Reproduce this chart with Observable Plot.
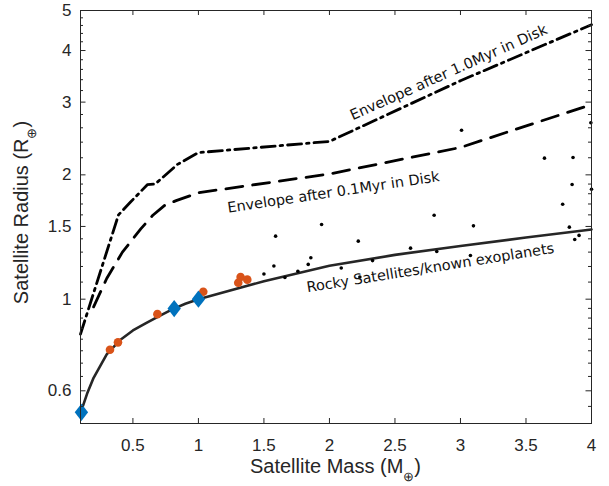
<!DOCTYPE html>
<html><head><meta charset="utf-8">
<script src="https://cdn.jsdelivr.net/npm/d3@7"></script>
<script src="https://cdn.jsdelivr.net/npm/@observablehq/plot@0.6"></script>
<style>body{margin:0;background:#fff;} svg{display:block}</style>
</head><body><div id="chart"></div>
<script>
// Rocky satellites / known exoplanets mass-radius curve
const rockyMass   = [0.1, 0.15, 0.2, 0.3, 0.4, 0.5, 0.6, 0.7, 0.8, 0.9, 1.0, 1.5, 2.0, 2.5, 3.0, 3.5, 4.0];
const rockyRadius = [0.53, 0.59, 0.645, 0.735, 0.795, 0.84, 0.875, 0.91, 0.945, 0.975, 1.0, 1.105, 1.205, 1.28, 1.345, 1.41, 1.475];
// Envelope after 0.1 Myr in disk (dashed)
const env01Mass   = [0.2, 0.3, 0.42, 0.56, 0.65, 0.74, 0.83, 1.0, 2.0, 3.0, 4.0];
const env01Radius = [0.958, 1.122, 1.30, 1.48, 1.594, 1.685, 1.732, 1.81, 2.01, 2.33, 2.96];
// Envelope after 1.0 Myr in disk (dash-dot)
const env1Mass    = [0.1, 0.39, 0.48, 0.61, 0.67, 0.84, 1.0, 2.0, 3.0, 4.0];
const env1Radius  = [0.823, 1.60, 1.716, 1.893, 1.90, 2.12, 2.264, 2.41, 3.38, 4.62];
// Orange points
const orangeMass   = [0.325, 0.386, 0.687, 1.037, 1.304, 1.322, 1.373];
const orangeRadius = [0.754, 0.786, 0.920, 1.042, 1.096, 1.132, 1.115];
// Blue diamonds (Mars, Venus, Earth)
const blueMass   = [0.107, 0.815, 1.0];
const blueRadius = [0.532, 0.949, 1.0];
// Small black points
const dotMass   = [1.500, 1.576, 1.589, 1.660, 1.759, 1.838, 1.858, 1.940, 2.090, 2.220, 2.232, 2.329, 2.619, 2.799, 2.819, 3.008, 3.076, 3.099, 3.641, 3.780, 3.831, 3.852, 3.859, 3.872, 3.905, 3.995, 4.0];
const dotRadius = [1.151, 1.203, 1.421, 1.128, 1.168, 1.214, 1.260, 1.516, 1.190, 1.382, 1.132, 1.240, 1.329, 1.596, 1.305, 2.564, 1.276, 1.505, 2.195, 1.697, 1.494, 1.896, 2.203, 1.395, 1.427, 2.675, 1.845];
// Curve annotations
const labelText   = ["Envelope after 1.0Myr in Disk", "Envelope after 0.1Myr in Disk", "Rocky Satellites/known exoplanets"];
const labelMass   = [2.91, 2.03, 2.77];
const labelRadius = [3.54, 1.814, 1.19];
const labelAngle  = [-24, -8.5, -9.1];
// Axis ticks
const xTicks = [0.5, 1, 1.5, 2, 2.5, 3, 3.5, 4];
const yTickLabels = [0.6, 1, 1.5, 2, 3, 4, 5];
const yMinor = [0.55, 0.65, 0.7, 0.75, 0.8, 0.85, 0.9, 0.95, 1.1, 1.2, 1.3, 1.4, 1.6, 1.7, 1.8, 1.9, 2.2, 2.4, 2.6, 2.8, 3.2, 3.4, 3.6, 3.8, 4.2, 4.4, 4.6, 4.8];

const W = 609, H = 486, mL = 80, mR = 18, mT = 10, mB = 63;
const innerW = W - mL - mR, innerH = H - mT - mB;
const axisColor = "#262626";

const toRows = (xs, ys) => xs.map((x, i) => ({x, y: ys[i]}));
const rocky = toRows(rockyMass, rockyRadius);
const env01 = toRows(env01Mass, env01Radius);
const env1 = toRows(env1Mass, env1Radius);
const orange = toRows(orangeMass, orangeRadius);
const blue = toRows(blueMass, blueRadius);
const dots = toRows(dotMass, dotRadius);
const labels = labelText.map((t, i) => ({t, x: labelMass[i], y: labelRadius[i], a: labelAngle[i]}));

const diamond = {draw(ctx) { const h = 8.6, w = 6.7; ctx.moveTo(0, -h); ctx.lineTo(w, 0); ctx.lineTo(0, h); ctx.lineTo(-w, 0); ctx.closePath(); }};

const chart = Plot.plot({
  width: W, height: H,
  marginLeft: mL, marginRight: mR, marginTop: mT, marginBottom: mB,
  style: {fontFamily: "'Liberation Sans', Arial, Helvetica, sans-serif", background: "#fff", overflow: "visible"},
  x: {type: "linear", domain: [0.1, 4]},
  y: {type: "log", domain: [0.5, 5]},
  marks: [
    Plot.line(env1, {x: "x", y: "y", stroke: "black", strokeWidth: 2.8, strokeDasharray: "14,5,2.5,5"}),
    Plot.line(env01, {x: "x", y: "y", stroke: "black", strokeWidth: 2.8, strokeDasharray: "17,10"}),
    Plot.line(rocky, {x: "x", y: "y", stroke: "#262626", strokeWidth: 2.6}),
    Plot.dot(dots, {x: "x", y: "y", r: 1.8, fill: "black"}),
    Plot.dot(orange, {x: "x", y: "y", r: 4.3, fill: "#D95319"}),
    Plot.dot(blue, {x: "x", y: "y", symbol: diamond, fill: "#0072BD"}),
    Plot.text(labels, {x: "x", y: "y", text: "t", rotate: "a", fontSize: 14.5, fontFamily: "'DejaVu Sans', Verdana, sans-serif", fill: "#111"}),
    Plot.frame({stroke: axisColor, strokeWidth: 1}),
    // inward ticks on all four sides
    Plot.ruleX(xTicks, {x: d => d, insetTop: innerH - 5, stroke: axisColor}),
    Plot.ruleX(xTicks, {x: d => d, insetBottom: innerH - 5, stroke: axisColor}),
    Plot.ruleY(yTickLabels, {y: d => d, insetRight: innerW - 5.5, stroke: axisColor}),
    Plot.ruleY(yTickLabels, {y: d => d, insetLeft: innerW - 5.5, stroke: axisColor}),
    Plot.ruleY(yMinor, {y: d => d, insetRight: innerW - 3, stroke: axisColor}),
    Plot.ruleY(yMinor, {y: d => d, insetLeft: innerW - 3, stroke: axisColor}),
    Plot.axisX({ticks: xTicks, tickSize: 0, tickPadding: 15.5, tickFormat: d => String(d), fontSize: 17, label: null, color: axisColor}),
    Plot.axisY({ticks: yTickLabels, tickSize: 0, tickPadding: 9, tickFormat: d => String(d), fontSize: 17, label: null, color: axisColor})
  ]
});

const svg = d3.select(chart);
const font = "'Liberation Sans', Arial, Helvetica, sans-serif";
// x axis label with subscript ⊕
const xl = svg.append("text").attr("x", mL + innerW / 2).attr("y", H - 13)
  .attr("text-anchor", "middle").attr("font-size", 20).attr("font-family", font).attr("fill", axisColor);
xl.append("tspan").text("Satellite Mass (M");
xl.append("tspan").attr("font-size", 13).attr("dy", 8).text("⊕");
xl.append("tspan").attr("dy", -8).text(")");
// y axis label with subscript ⊕
const yl = svg.append("text").attr("transform", `translate(28,${mT + innerH / 2 - 4}) rotate(-90)`)
  .attr("text-anchor", "middle").attr("font-size", 20).attr("font-family", font).attr("fill", axisColor);
yl.append("tspan").text("Satellite Radius (R");
yl.append("tspan").attr("font-size", 13).attr("dy", 8).text("⊕");
yl.append("tspan").attr("dy", -8).text(")");

document.getElementById("chart").appendChild(chart);
</script>
</body></html>
